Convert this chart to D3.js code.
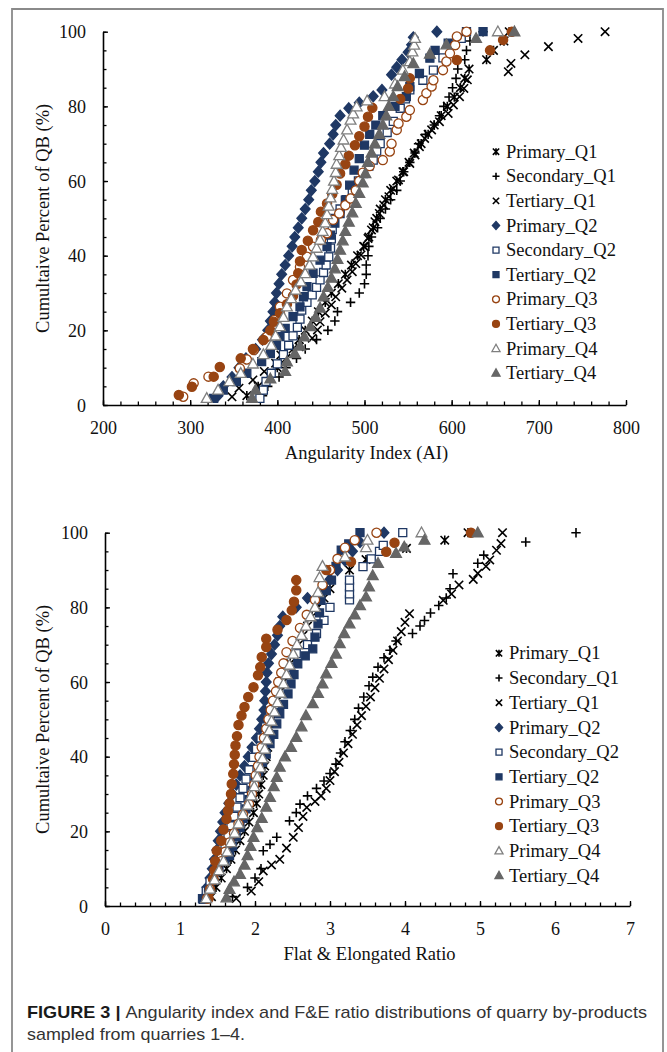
<!DOCTYPE html>
<html><head><meta charset="utf-8">
<script src="https://cdn.jsdelivr.net/npm/d3@7"></script>
<style>body{margin:0;background:#fff} .serif{font-family:'Liberation Serif','Times New Roman',serif !important;}</style>
</head><body>
<script>
// ---------- DATA ----------
const seriesNames = ["Primary_Q1","Secondary_Q1","Tertiary_Q1","Primary_Q2","Secondary_Q2","Tertiary_Q2","Primary_Q3","Tertiary_Q3","Primary_Q4","Tertiary_Q4"];
const aiTicks = [200,300,400,500,600,700,800];
const feTicks = [0,1,2,3,4,5,6,7];
const pctTicks = [0,20,40,60,80,100];

// Angularity Index (AI) vs cumulative percent
const ai_Primary_Q1 = [[365,2.5],[378,5],[392,7.5],[400,10],[410,12.5],[418,15],[425,17.5],[432,20],[440,22.5],[447,25],[455,27.5],[462,30],[470,32.5],[478,35],[485,37.5],[492,40],[499,42.5],[505,45],[510,47.5],[514,50],[518,52.5],[524,55],[530,57.5],[537,60],[544,62.5],[551,65],[557,67.5],[565,70],[573,72.5],[580,75],[588,77.5],[595,80],[603,82.5],[610,85],[615,87.5],[620,90],[640,92.5],[648,95],[660,97.5],[666,100]];
const ai_Secondary_Q1 = [[383,2.5],[389,5],[402,7.5],[410,10],[422,12.5],[432,15],[445,17.5],[458,20],[466,22.5],[469,25],[484,27.5],[494,30],[500,32.5],[502,35],[502,37.5],[504,40],[505,42.5],[508,45],[515,47.5],[518,50],[524,52.5],[530,55],[537,57.5],[541,60],[545,62.5],[552,65],[558,67.5],[562,70],[570,72.5],[580,75],[586,77.5],[591,80],[597,82.5],[601,85],[605,87.5],[607,90],[615,92.5],[617,95],[621,97.5],[636,100]];
const ai_Tertiary_Q1 = [[348,2.2],[356,4.5],[372,6.7],[385,9],[398,11.2],[404,13.4],[425,15.6],[440,17.9],[446,20.1],[449,22.3],[455,24.6],[462,26.8],[467,29],[474,31.3],[480,33.5],[486,35.7],[490,37.9],[496,40.2],[500,42.4],[504,44.6],[508,46.9],[512,49.1],[517,51.3],[522,53.6],[528,55.8],[533,58],[539,60.3],[545,62.5],[552,64.7],[558,67],[563,69.2],[569,71.4],[577,73.7],[586,75.9],[596,78.1],[602,80.4],[609,82.6],[614,84.8],[618,87.1],[665,89.3],[668,91.5],[684,93.8],[711,96],[745,98.2],[776,100]];
const ai_Primary_Q2 = [[332,2.5],[338,5],[348,7.5],[356,10],[364,12.5],[375,15],[383,17.5],[389,20],[392,22.5],[395,25],[397,27.5],[399,30],[402,32.5],[405,35],[409,37.5],[413,40],[417,42.5],[420,45],[424,47.5],[428,50],[432,52.5],[436,55],[439,57.5],[443,60],[447,62.5],[450,65],[453,67.5],[460,70],[464,72.5],[467,75],[472,77.5],[482,79.5],[494,81],[510,82.7],[520,84.4],[531,88.5],[537,90.5],[543,92.5],[550,94.5],[554,96.5],[556,98.5],[583,100]];
const ai_Secondary_Q2 = [[380,1.8],[384,4],[387,6.3],[393,8.5],[400,11],[407,13.5],[413,16],[418,18.5],[423,20.8],[426,23],[428,25.4],[434,27.5],[440,29.5],[445,31.5],[449,33.5],[453,35.5],[456,37.5],[459,39.7],[461,42],[462,44.5],[463,47],[465,50],[472,52.5],[479,55],[486,57.5],[493,60],[499,62],[505,64],[510,65.6],[514,68],[518,70],[526,73],[533,76],[541,79.5],[547,82],[552,84.4],[567,87],[579,89.7],[590,93],[602,96.4],[611,98.2],[617,100]];
const ai_Tertiary_Q2 = [[327,1.8],[338,4],[353,6.3],[365,8.5],[382,11.6],[392,13.8],[399,16],[403,18.3],[409,20.5],[418,23.7],[426,26.3],[430,29],[434,31.7],[441,35.3],[449,38.8],[457,42.4],[461,45.5],[466,48.7],[472,51.3],[478,54.9],[483,58.9],[488,62.9],[494,66],[500,69.6],[506,72.5],[513,75],[521,77.5],[535,80],[548,82.6],[552,85.3],[563,88.8],[575,92.9],[581,95],[596,96.9],[636,100]];
const ai_Primary_Q3 = [[292,2.2],[304,5.8],[321,7.6],[357,9.8],[365,12.2],[373,14.7],[388,18.3],[397,22.8],[403,26.3],[411,29.9],[418,33.5],[426,37],[434,39.7],[441,42.4],[450,44.2],[457,46],[464,49.6],[471,51.3],[478,53.5],[484,55.3],[490,57.5],[494,60],[498,62.2],[506,64],[521,65.6],[529,67.9],[531,70],[537,73.7],[539,75.4],[548,77.2],[552,79],[567,81.7],[571,83.5],[577,85.3],[579,87],[590,89.7],[594,92],[598,94.2],[604,96.4],[606,98.7],[617,100]];
const ai_Tertiary_Q3 = [[287,2.7],[302,4.9],[327,7.6],[334,10.2],[358,12.5],[372,15],[384,17.4],[392,20],[396,22.3],[403,24.6],[411,27],[418,29.2],[422,32.3],[424,35.3],[426,38.5],[428,41.5],[435,44],[441,46.8],[447,49],[450,51.8],[457,54],[463,56.5],[468,59],[472,62],[478,64.5],[482,66.8],[489,69.6],[494,72],[500,74.6],[504,77.2],[509,79.6],[541,82],[550,84.8],[552,87.5],[606,92.4],[644,95],[659,97.8],[669,100]];
const ai_Primary_Q4 = [[319,1.8],[332,4],[345,6.3],[358,8.5],[372,11],[384,13.5],[393,16],[398,18.5],[403,21],[407,23.5],[411,26.3],[416,28.5],[421,30.8],[427,33],[432,35.2],[437,37.5],[441,39.7],[445,42],[449,44.2],[452,46.5],[455,48.8],[457,51],[459,53.3],[461,55.5],[463,57.8],[465,60],[467,62.3],[468,64.5],[471,66.8],[473,69],[476,71],[480,73.7],[484,76.3],[487,78],[491,79.9],[503,81.5],[523,82.6],[535,86],[544,89.7],[552,92],[555,94.6],[557,96.4],[558,98.2],[653,100]];
const ai_Tertiary_Q4 = [[371,1.8],[375,4],[392,7],[409,9],[411,11.6],[420,13.8],[426,15.8],[431,18.3],[438,21],[444,23.5],[449,26],[453,29],[458,31.5],[462,34],[466,36.5],[469,39],[472,41.5],[475,44],[478,46.5],[482,49],[486,51.5],[490,54],[494,56.7],[498,59.5],[501,62],[504,65],[508,67.5],[512,70],[517,72.5],[521,75],[525,77.5],[528,80],[533,82.6],[538,85.3],[546,88],[556,91.5],[575,94],[594,96.5],[628,98.2],[672,100]];

// Flat & Elongated ratio vs cumulative percent
const fe_Primary_Q1 = [[1.42,2.5],[1.48,5],[1.55,7.5],[1.62,10],[1.68,12.5],[1.74,15],[1.8,17.5],[1.86,20],[1.92,22.5],[1.98,25],[2.02,27.5],[2.05,30],[2.08,32.5],[2.11,35],[2.13,37.5],[2.15,40],[2.17,42.5],[2.19,45],[2.21,47.5],[2.23,50],[2.26,52.5],[2.3,55],[2.34,57.5],[2.38,60],[2.42,62.5],[2.47,65],[2.52,67.5],[2.58,70],[2.64,72.5],[2.7,75],[2.76,77.5],[2.84,80],[2.92,82.5],[3.0,85],[3.26,90],[3.48,92.8],[4.02,95.8],[4.53,98],[4.84,100]];
const fe_Secondary_Q1 = [[1.7,2.5],[1.9,5],[2.0,7.5],[2.08,10],[2.11,14.8],[2.2,16.5],[2.29,18.4],[2.46,22.8],[2.55,25],[2.6,27.3],[2.7,29.5],[2.82,31.5],[2.92,33.5],[3.0,35.5],[3.08,38],[3.14,41],[3.2,44],[3.27,47],[3.33,50],[3.38,53],[3.45,56],[3.52,59],[3.57,61.3],[3.64,64],[3.72,66.5],[3.8,68.5],[3.88,71],[4.1,73],[4.2,75],[4.26,76.5],[4.34,78.5],[4.45,80.5],[4.55,82.5],[4.6,85],[4.64,89],[4.97,91.8],[5.05,94],[5.61,97.5],[6.28,100]];
const fe_Tertiary_Q1 = [[1.75,2],[1.95,4],[2.05,6.5],[2.11,9.4],[2.22,11],[2.33,12.5],[2.42,15.5],[2.51,18.4],[2.58,21],[2.64,24],[2.69,26.4],[2.8,28],[2.88,29.5],[2.95,31.5],[3.0,33.6],[3.06,36],[3.12,38.5],[3.18,41],[3.24,43.5],[3.3,46],[3.36,48.5],[3.42,51],[3.48,53.5],[3.54,56],[3.6,58.5],[3.66,61],[3.72,63.5],[3.78,66],[3.84,68.5],[3.9,71],[3.95,73.5],[4.0,76],[4.06,78.3],[4.51,81.9],[4.62,83.6],[4.72,86],[4.91,87.5],[4.97,89.1],[5.08,91],[5.13,92.7],[5.22,95.3],[5.28,97.1],[5.3,100]];
const fe_Primary_Q2 = [[1.33,2.5],[1.36,5],[1.4,7.5],[1.43,10],[1.46,12.5],[1.49,15],[1.51,17.5],[1.54,20],[1.57,22.5],[1.6,25],[1.65,27.5],[1.7,30],[1.75,32.5],[1.8,35],[1.86,37.5],[1.91,40],[1.96,42.5],[2.02,45],[2.06,47.5],[2.09,50],[2.12,52.5],[2.13,55],[2.14,57.5],[2.15,60],[2.16,62.5],[2.18,65],[2.22,67.5],[2.26,70],[2.3,72.5],[2.33,75],[2.37,77.5],[2.55,80],[2.7,82.5],[2.91,85],[3.0,87.5],[3.1,90],[3.2,92.5],[3.3,95],[3.4,97.5],[3.72,100]];
const fe_Secondary_Q2 = [[1.31,1.8],[1.35,4],[1.4,6.5],[1.45,9],[1.5,11.5],[1.55,14],[1.6,16.5],[1.64,19],[1.68,21.5],[1.72,24],[1.76,26.5],[1.8,29],[1.84,31.5],[1.88,34],[1.92,36.5],[1.98,39.8],[2.02,42],[2.08,45],[2.14,48],[2.2,51],[2.26,54],[2.3,57],[2.33,60],[2.45,64],[2.55,67.6],[2.7,70],[2.82,73],[2.92,76.5],[3.0,80],[3.26,82],[3.26,83.6],[3.26,85.5],[3.26,87.3],[3.44,90.9],[3.55,93],[3.66,95],[3.71,96.6],[3.97,100]];
const fe_Tertiary_Q2 = [[1.3,2],[1.38,4.5],[1.45,7],[1.52,9.5],[1.6,12],[1.66,13.5],[1.7,16],[1.75,18.5],[1.8,21],[1.84,23.5],[1.88,26],[1.92,28.5],[1.96,31],[2.0,33.5],[2.05,36],[2.1,38.5],[2.15,40.7],[2.2,43.5],[2.25,46],[2.29,48.8],[2.33,51.5],[2.38,54],[2.44,56.8],[2.48,59.5],[2.52,62],[2.57,64.9],[2.67,67],[2.77,68.9],[2.8,72],[2.84,75.6],[2.86,78.5],[2.88,81.9],[2.95,84.5],[3.02,87.3],[3.08,91],[3.15,95.3],[3.25,97],[3.4,100]];
const fe_Primary_Q3 = [[1.36,2],[1.4,4.5],[1.45,7],[1.5,9.5],[1.55,12],[1.6,14.5],[1.66,17],[1.72,19.5],[1.78,22],[1.84,24.5],[1.92,27.3],[1.96,30],[1.99,32.5],[2.01,35],[2.04,37.5],[2.06,40],[2.09,42.5],[2.12,45],[2.15,47.5],[2.18,50],[2.21,52.5],[2.24,55],[2.28,57.5],[2.31,60],[2.35,62.5],[2.38,65],[2.42,68],[2.5,71],[2.6,74.5],[2.69,78],[2.8,82],[2.9,86],[3.0,90],[3.1,93],[3.2,96],[3.33,98],[3.62,100]];
const fe_Tertiary_Q3 = [[1.38,2],[1.4,4],[1.44,7.2],[1.46,9.5],[1.47,12],[1.49,14.8],[1.55,17.5],[1.58,20.5],[1.62,23.3],[1.64,25.5],[1.66,27.5],[1.68,30],[1.69,32.7],[1.71,35.4],[1.72,38],[1.73,40.5],[1.74,43],[1.76,45.5],[1.78,48.5],[1.82,51],[1.86,53.3],[1.91,56],[1.98,58.6],[2.04,61.8],[2.07,64],[2.09,66.7],[2.15,69.4],[2.15,71.6],[2.3,74],[2.42,76.6],[2.49,79.2],[2.52,81.5],[2.55,84.6],[2.55,87.3],[2.95,90],[3.28,92.2],[3.75,94.9],[3.86,97.3],[4.88,100]];
const fe_Primary_Q4 = [[1.35,2],[1.4,4.5],[1.46,7],[1.52,9.5],[1.58,12],[1.63,14.5],[1.68,17],[1.73,19.5],[1.78,22],[1.84,24.5],[1.9,27],[1.95,29.5],[1.99,32],[2.03,34.5],[2.07,37],[2.1,39.5],[2.13,42],[2.16,44.5],[2.19,47],[2.22,49.5],[2.26,52],[2.3,54.5],[2.34,57],[2.38,59.5],[2.42,62],[2.46,64.5],[2.51,67.5],[2.56,70],[2.62,72.5],[2.68,75],[2.74,77.5],[2.8,80],[2.84,84],[2.86,88],[2.9,91],[3.2,93.5],[3.48,96],[3.5,98],[4.22,100]];
const fe_Tertiary_Q4 = [[1.62,2.2],[1.66,4.5],[1.72,6.5],[1.8,8.5],[1.86,11],[1.9,13.5],[1.94,16],[1.98,18.4],[2.03,21],[2.09,23.5],[2.15,26.5],[2.2,29.1],[2.25,32],[2.29,34.5],[2.33,37.2],[2.4,40],[2.48,42.5],[2.55,45.2],[2.62,48],[2.68,51],[2.77,54.2],[2.84,57],[2.9,59.5],[2.95,62.2],[3.02,65],[3.08,67.5],[3.13,70.3],[3.19,73],[3.26,75.6],[3.33,78],[3.4,80.5],[3.48,82.8],[3.52,85.5],[3.57,88.5],[3.64,91.8],[3.88,94.5],[3.99,96.2],[4.26,98],[4.97,100]];

const aiData = [ai_Primary_Q1,ai_Secondary_Q1,ai_Tertiary_Q1,ai_Primary_Q2,ai_Secondary_Q2,ai_Tertiary_Q2,ai_Primary_Q3,ai_Tertiary_Q3,ai_Primary_Q4,ai_Tertiary_Q4];
const feData = [fe_Primary_Q1,fe_Secondary_Q1,fe_Tertiary_Q1,fe_Primary_Q2,fe_Secondary_Q2,fe_Tertiary_Q2,fe_Primary_Q3,fe_Tertiary_Q3,fe_Primary_Q4,fe_Tertiary_Q4];

// ---------- STYLE ----------
const NAVY="#1f3864", BROWN="#984412", GRAY="#666666", OGRAY="#7f7f7f";
const styles = [
  {shape:"star", stroke:"#000", fill:"none"},
  {shape:"plus", stroke:"#000", fill:"none"},
  {shape:"x", stroke:"#000", fill:"none"},
  {shape:"diamond", stroke:NAVY, fill:NAVY},
  {shape:"square", stroke:NAVY, fill:"#fff"},
  {shape:"square", stroke:NAVY, fill:NAVY},
  {shape:"circle", stroke:BROWN, fill:"#fff"},
  {shape:"circle", stroke:BROWN, fill:BROWN},
  {shape:"triangle", stroke:OGRAY, fill:"#fff"},
  {shape:"triangle", stroke:GRAY, fill:GRAY}
];
function shapePath(shape, s){
  switch(shape){
    case "star": {const r=4.2*s; return `M${-r},${-r}L${r},${r}M${-r},${r}L${r},${-r}M0,${-r*1.1}L0,${r*1.1}`;}
    case "plus": {const r=4.7*s; return `M${-r},0H${r}M0,${-r}V${r}`;}
    case "x": {const r=4.2*s; return `M${-r},${-r}L${r},${r}M${-r},${r}L${r},${-r}`;}
    case "diamond": {const r=5.4*s; return `M0,${-r}L${r*0.9},0L0,${r}L${-r*0.9},0Z`;}
    case "square": {const r=4*s; return `M${-r},${-r}H${r}V${r}H${-r}Z`;}
    case "circle": {const r=4.6*s; return d3.symbol(d3.symbolCircle, Math.PI*r*r)();}
    case "triangle": {const r=5.4*s; return `M0,${-r*1.05}L${r},${r*0.75}L${-r},${r*0.75}Z`;}
  }
}
function strokeW(shape){ return (shape==="star"||shape==="plus"||shape==="x")?1.6:1.3; }

const W=667,H=1052;
const svg=d3.select("body").append("svg").attr("width",W).attr("height",H);
const SERIF="'Liberation Serif','Times New Roman',serif";

// border
svg.append("path").attr("d",`M12,${H+5}V9H663V${H+5}`).attr("fill","none").attr("stroke","#8a8a8a").attr("stroke-width",1.8);

function drawChart(cfg){
  const g=svg.append("g");
  const x=d3.scaleLinear().domain(cfg.xdom).range(cfg.xr);
  const y=d3.scaleLinear().domain([0,100]).range(cfg.yr);
  // minor ticks
  const xa=g.append("g").attr("transform",`translate(0,${cfg.yr[0]})`)
    .call(d3.axisBottom(x).tickValues(cfg.xMinor).tickSize(-3.5).tickSizeOuter(0).tickFormat(""));
  xa.select(".domain").remove();
  const ya=g.append("g").attr("transform",`translate(${cfg.xr[0]},0)`)
    .call(d3.axisLeft(y).tickValues(d3.range(0,101,5)).tickSize(-3.5).tickSizeOuter(0).tickFormat(""));
  ya.select(".domain").remove();
  // major
  const xA=g.append("g").attr("transform",`translate(0,${cfg.yr[0]})`)
    .call(d3.axisBottom(x).tickValues(cfg.xTicks).tickFormat(d3.format("d")).tickSize(-5).tickSizeOuter(0).tickPadding(16));
  const yA=g.append("g").attr("transform",`translate(${cfg.xr[0]},0)`)
    .call(d3.axisLeft(y).tickValues(pctTicks).tickFormat(d3.format("d")).tickSize(-5).tickSizeOuter(0).tickPadding(17));
  [xa,ya,xA,yA].forEach(a=>a.attr("font-family",null).attr("font-size",null));
  g.selectAll(".tick line").attr("stroke","#000").attr("stroke-width",1.3);
  g.selectAll(".domain").attr("stroke","#000").attr("stroke-width",1.6);
  g.selectAll(".tick text").attr("class","serif").style("font-family",SERIF).style("font-size","18px").attr("fill","#111");
  yA.selectAll(".tick text").attr("dy","0.34em");
  // titles
  g.append("text").attr("x",(cfg.xr[0]+cfg.xr[1])/2+2).attr("y",cfg.yr[0]+54)
    .attr("text-anchor","middle").attr("class","serif").style("font-family",SERIF).style("font-size","18.5px").attr("fill","#111").text(cfg.xTitle);
  g.append("text").attr("transform",`translate(49,${(cfg.yr[0]+cfg.yr[1])/2}) rotate(-90)`)
    .attr("text-anchor","middle").attr("class","serif").style("font-family",SERIF).style("font-size","18.5px").attr("fill","#111")
    .text("Cumultaive Percent of QB (%)");
  // points
  cfg.data.forEach((ser,i)=>{
    const st=styles[i];
    g.append("g").selectAll("path").data(ser).join("path")
      .attr("transform",d=>`translate(${x(d[0])},${y(d[1])})`)
      .attr("d",shapePath(st.shape,1))
      .attr("fill",st.fill).attr("stroke",st.stroke).attr("stroke-width",strokeW(st.shape));
  });
  // legend
  const lg=g.append("g");
  seriesNames.forEach((n,i)=>{
    const st=styles[i];
    const yy=cfg.legY+i*cfg.legStep;
    lg.append("path").attr("transform",`translate(${cfg.legX},${yy})`).attr("d",shapePath(st.shape,0.75))
      .attr("fill",st.fill).attr("stroke",st.stroke).attr("stroke-width",strokeW(st.shape));
    lg.append("text").attr("x",cfg.legX+10).attr("y",yy).attr("dy","0.33em")
      .attr("class","serif").style("font-family",SERIF).style("font-size","18.5px").attr("fill","#111").text(n);
  });
}

drawChart({xdom:[200,800], xr:[103,626], yr:[405,31.7], xTicks:aiTicks, xMinor:d3.range(200,801,20),
  xTitle:"Angularity Index (AI)", data:aiData, legX:496, legY:151.7, legStep:24.6});
drawChart({xdom:[0,7], xr:[105,630], yr:[906,532.7], xTicks:feTicks, xMinor:d3.range(0,7.01,0.2),
  xTitle:"Flat & Elongated Ratio", data:feData, legX:499, legY:653.3, legStep:24.7});

// caption
const CAP="'Liberation Sans Narrow','Arial Narrow','Liberation Sans',Arial,sans-serif";
const c1=svg.append("text").attr("x",27).attr("y",1018).style("font-family",CAP).style("font-size","17px")
  .attr("fill","#333").attr("textLength",620).attr("lengthAdjust","spacingAndGlyphs");
c1.append("tspan").attr("font-weight","bold").attr("fill","#1a1a1a").text("FIGURE 3 | ");
c1.append("tspan").text("Angularity index and F&E ratio distributions of quarry by-products");
svg.append("text").attr("x",27).attr("y",1040).style("font-family",CAP).style("font-size","17px")
  .attr("fill","#333").attr("textLength",218).attr("lengthAdjust","spacingAndGlyphs")
  .text("sampled from quarries 1–4.");
</script>
</body></html>
